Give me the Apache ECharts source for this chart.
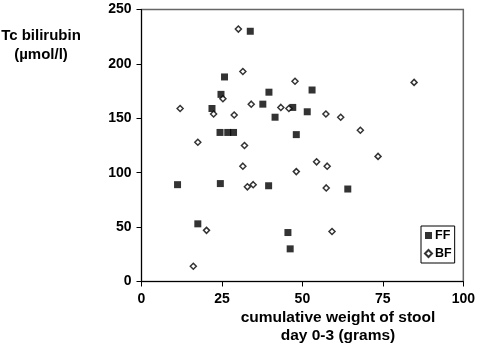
<!DOCTYPE html>
<html>
<head>
<meta charset="utf-8">
<script src="https://cdn.jsdelivr.net/npm/echarts@6/dist/echarts.min.js"></script>
<style>
  html, body { margin: 0; padding: 0; background: #fff; }
  #chart { width: 478px; height: 344px; }
</style>
</head>
<body>
<div id="chart"></div>
<script>
// stool weight (g) vs Tc bilirubin (umol/l)
const ffPoints = [
  [33.8, 230], [25.8, 188], [39.6, 174], [53.0, 176], [24.7, 172],
  [21.9, 159], [37.7, 163], [47.0, 160], [41.5, 151], [51.5, 156],
  [24.4, 137], [26.8, 137], [28.6, 137], [48.1, 135], [11.2, 89],
  [24.5, 90], [39.5, 88], [64.1, 85], [17.5, 53], [45.5, 45], [46.2, 30]
]
const bfPoints = [
  [30.1, 232], [31.5, 193], [47.7, 184], [84.7, 183], [25.3, 168],
  [12.0, 159], [22.4, 154], [34.1, 163], [28.8, 153], [43.3, 160],
  [45.8, 159], [57.3, 154], [61.9, 151], [68.0, 139], [17.5, 128],
  [32.0, 125], [73.5, 115], [54.4, 110], [57.7, 106], [31.5, 106],
  [48.1, 101], [32.9, 87], [34.7, 89], [57.4, 86], [20.2, 47],
  [59.2, 46], [16.1, 14]
]
const xTicks = [0, 25, 50, 75, 100]
const yTicks = [0, 50, 100, 150, 200, 250]

const font = 'Liberation Sans, Arial, sans-serif'
const chart = echarts.init(document.getElementById('chart'))

chart.setOption({
  animation: false,
  grid: {
    left: 141.5, right: 14.5, top: 9.5, bottom: 62.5,
    show: true, borderColor: '#666', borderWidth: 1.5
  },
  xAxis: {
    type: 'value', min: 0, max: 100, interval: 25,
    axisLine: { lineStyle: { color: '#000', width: 1 } },
    axisTick: { show: true, length: 5, lineStyle: { color: '#000' } },
    axisLabel: {
      color: '#000', fontWeight: 'bold', fontSize: 14, fontFamily: font, margin: 11,
      formatter: v => xTicks.includes(v) ? String(v) : ''
    },
    splitLine: { show: false }
  },
  yAxis: {
    type: 'value', min: 0, max: 250, interval: 50,
    axisLine: { show: true, lineStyle: { color: '#000', width: 1 } },
    axisTick: { show: true, length: 5, lineStyle: { color: '#000' } },
    axisLabel: {
      color: '#000', fontWeight: 'bold', fontSize: 14, fontFamily: font, margin: 10,
      formatter: v => yTicks.includes(v) ? String(v) : ''
    },
    splitLine: { show: false }
  },
  legend: {
    orient: 'vertical', left: 421, top: 226,
    itemWidth: 7, itemHeight: 7, itemGap: 5,
    padding: [3, 3, 3, 3],
    borderColor: '#000', borderWidth: 1,
    textStyle: { color: '#000', fontWeight: 'bold', fontSize: 12.5, fontFamily: font, padding: [0, 0, 0, -2] },
    data: ['FF', 'BF']
  },
  graphic: [
    { type: 'text', x: 41, y: 36, style: { text: 'Tc bilirubin', fill: '#000', font: 'bold 15px ' + font, align: 'center', verticalAlign: 'middle' } },
    { type: 'text', x: 41, y: 55, style: { text: '(µmol/l)', fill: '#000', font: 'bold 15px ' + font, align: 'center', verticalAlign: 'middle' } },
    { type: 'text', x: 338, y: 318, style: { text: 'cumulative weight of stool', fill: '#000', font: 'bold 15.5px ' + font, align: 'center', verticalAlign: 'middle' } },
    { type: 'text', x: 338, y: 336, style: { text: 'day 0-3 (grams)', fill: '#000', font: 'bold 15.5px ' + font, align: 'center', verticalAlign: 'middle' } }
  ],
  series: [
    {
      name: 'FF', type: 'scatter', data: ffPoints,
      symbol: 'rect', symbolSize: 7,
      itemStyle: { color: '#000' }
    },
    {
      name: 'BF', type: 'scatter', data: bfPoints,
      symbol: 'diamond', symbolSize: 6,
      itemStyle: { color: '#fff', borderColor: '#000', borderWidth: 1.5 }
    }
  ]
})
</script>
</body>
</html>
